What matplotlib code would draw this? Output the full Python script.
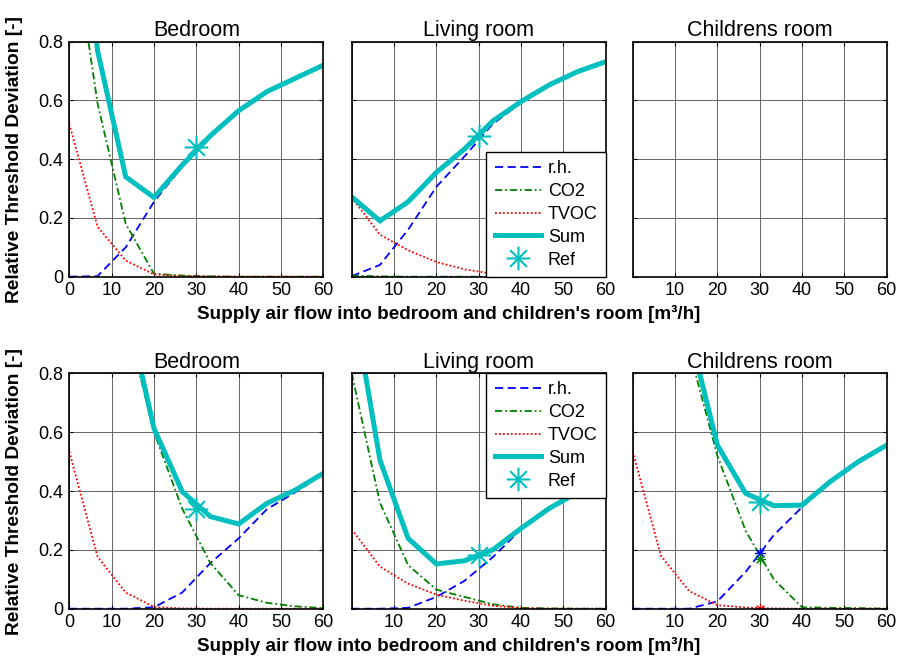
import matplotlib
matplotlib.use("Agg")
import matplotlib.pyplot as plt
from matplotlib.path import Path

plt.rcParams['font.family'] = ['Liberation Sans', 'DejaVu Sans']

# ------------------------------------------------------------------ data
flow = [0, 6.67, 13.33, 20, 26.67, 33.33, 40, 46.67, 53.33, 60]
rooms = ["Bedroom", "Living room", "Childrens room"]

# top row
bed1_rh = [0, 0.002, 0.10, 0.255, 0.375, 0.478, 0.565, 0.63, 0.675, 0.72]
bed1_co2 = [1.24, 0.59, 0.18, 0.01, 0.004, 0.001, 0, 0, 0, 0]
bed1_tvoc = [0.52, 0.17, 0.055, 0.008, 0.002, 0.001, 0, 0, 0, 0]
bed1_sum = [1.76, 0.77, 0.34, 0.27, 0.38, 0.48, 0.565, 0.63, 0.675, 0.72]
bed1_ref = 0.44

liv1_rh = [0.002, 0.04, 0.16, 0.306, 0.41, 0.52, 0.592, 0.65, 0.697, 0.73]
liv1_co2 = [0.004, 0.001, 0, 0, 0, 0, 0, 0, 0, 0]
liv1_tvoc = [0.27, 0.143, 0.09, 0.05, 0.025, 0.01, 0.004, 0.001, 0, 0]
liv1_sum = [0.272, 0.19, 0.255, 0.355, 0.435, 0.53, 0.596, 0.653, 0.698, 0.732]
liv1_ref = 0.478

# bottom row
bed2_rh = [0, 0, 0, 0.005, 0.055, 0.155, 0.239, 0.338, 0.395, 0.458]
bed2_co2 = [3.0, 1.9, 0.99, 0.60, 0.34, 0.155, 0.046, 0.02, 0.008, 0.002]
bed2_tvoc = [0.534, 0.177, 0.055, 0.006, 0.001, 0, 0, 0, 0, 0]
bed2_sum = [3.5, 2.1, 1.04, 0.613, 0.398, 0.313, 0.288, 0.358, 0.403, 0.46]
bed2_ref = 0.34

liv2_rh = [0, 0, 0.003, 0.04, 0.095, 0.175, 0.27, 0.34, 0.395, 0.45]
liv2_co2 = [0.8, 0.36, 0.148, 0.065, 0.04, 0.015, 0.003, 0.001, 0, 0]
liv2_tvoc = [0.27, 0.143, 0.085, 0.048, 0.027, 0.01, 0.002, 0, 0, 0]
liv2_sum = [1.07, 0.505, 0.239, 0.152, 0.163, 0.2, 0.273, 0.341, 0.395, 0.45]
liv2_ref = 0.182

chi2_rh = [0, 0, 0, 0.025, 0.125, 0.25, 0.345, 0.43, 0.5, 0.556]
chi2_co2 = [2.5, 1.6, 0.88, 0.52, 0.265, 0.1, 0.005, 0.003, 0.002, 0]
chi2_tvoc = [0.534, 0.18, 0.06, 0.012, 0.004, 0.001, 0, 0, 0, 0]
chi2_sum = [3.0, 1.8, 0.944, 0.556, 0.392, 0.35, 0.352, 0.432, 0.5, 0.556]
chi2_ref = 0.364
chi2_ref_parts = [0.188, 0.17, 0.0]  # rh, co2, tvoc at ref flow

ref_flow = 30
xticks = [0, 10, 20, 30, 40, 50, 60]
yticks = [0, 0.2, 0.4, 0.6, 0.8]

# ------------------------------------------------------------------ style
C_RH = 'blue'
C_CO2 = (0, 0.5, 0)
C_TVOC = 'red'
C_SUM = (0.0, 0.75, 0.75)

# MATLAB-like asterisk marker (+ and x combined)
d = 0.707
star = Path([(-1, 0), (1, 0), (0, -1), (0, 1), (-d, -d), (d, d), (-d, d), (d, -d)],
            [Path.MOVETO, Path.LINETO] * 4)


def draw_room(ax, rh, co2, tvoc, total, ref, parts=None):
    ax.plot(flow, rh, color=C_RH, lw=1.3, dashes=(4.5, 2.5), label='r.h.')
    ax.plot(flow, co2, color=C_CO2, lw=1.3, dashes=(4, 1.6, 1, 1.6), label='CO2')
    ax.plot(flow, tvoc, color=C_TVOC, lw=1.3, dashes=(1, 1.2), label='TVOC')
    ax.plot(flow, total, color=C_SUM, lw=3.6, label='Sum', solid_joinstyle='miter')
    ax.plot([ref_flow], [ref], ls='none', marker=star, ms=17, mew=1.5,
            color=C_SUM, label='Ref')
    if parts:
        for val, col in zip(parts, [C_RH, C_CO2, C_TVOC]):
            ax.plot([ref_flow], [val], ls='none', marker=star, ms=8, mew=1.0, color=col)


def style_axes(ax, col):
    ax.set_xlim(0, 60)
    ax.set_ylim(0, 0.8)
    ax.set_xticks(xticks)
    ax.set_yticks(yticks)
    if col == 0:
        ax.set_xticklabels([str(t) for t in xticks])
        ax.set_yticklabels(['0', '0.2', '0.4', '0.6', '0.8'])
    else:
        ax.set_xticklabels([''] + [str(t) for t in xticks[1:]])
        ax.set_yticklabels([])
    ax.grid(True, color='0.4', lw=0.7, ls='-')
    ax.set_axisbelow(True)
    ax.tick_params(direction='in', top=True, right=True, length=3,
                   labelsize=13, width=0.8)
    ax.tick_params(axis='x', pad=4)
    ax.tick_params(axis='y', pad=4)
    for s in ax.spines.values():
        s.set_linewidth(1.2)
    ax.set_title(rooms[col], fontsize=15.5, pad=4)


fig = plt.figure(figsize=(8.98, 6.57), dpi=100)

lefts = [69.3 / 898, 351.7 / 898, 632.7 / 898]
width = 254 / 898
rows = [(1 - 276.7 / 657, 235 / 657), (1 - 608.7 / 657, 235.4 / 657)]

top_data = [(bed1_rh, bed1_co2, bed1_tvoc, bed1_sum, bed1_ref, None),
            (liv1_rh, liv1_co2, liv1_tvoc, liv1_sum, liv1_ref, None),
            None]
bot_data = [(bed2_rh, bed2_co2, bed2_tvoc, bed2_sum, bed2_ref, None),
            (liv2_rh, liv2_co2, liv2_tvoc, liv2_sum, liv2_ref, None),
            (chi2_rh, chi2_co2, chi2_tvoc, chi2_sum, chi2_ref, chi2_ref_parts)]

for r, data in enumerate([top_data, bot_data]):
    bottom, height = rows[r]
    for c in range(3):
        ax = fig.add_axes([lefts[c], bottom, width, height])
        if data[c] is not None:
            draw_room(ax, *data[c])
        style_axes(ax, c)
        if c == 1:
            leg = ax.legend(loc='lower right' if r == 0 else 'upper right',
                            fontsize=13, borderaxespad=0, fancybox=False,
                            framealpha=1, edgecolor='black', handlelength=2.55,
                            labelspacing=0.32, borderpad=0.45, handletextpad=0.4)
            leg.get_frame().set_linewidth(1.0)
            leg.set_zorder(5)

    # row labels
    fig.text(15 / 898, bottom + height / 2, 'Relative Threshold Deviation [-]',
             rotation=90, ha='center', va='center', fontsize=13.8, fontweight='bold')
    fig.text(0.5, bottom - 37 / 657, "Supply air flow into bedroom and children's room [m³/h]",
             ha='center', va='center', fontsize=13.6, fontweight='bold')

fig.savefig('out.png', dpi=100)
